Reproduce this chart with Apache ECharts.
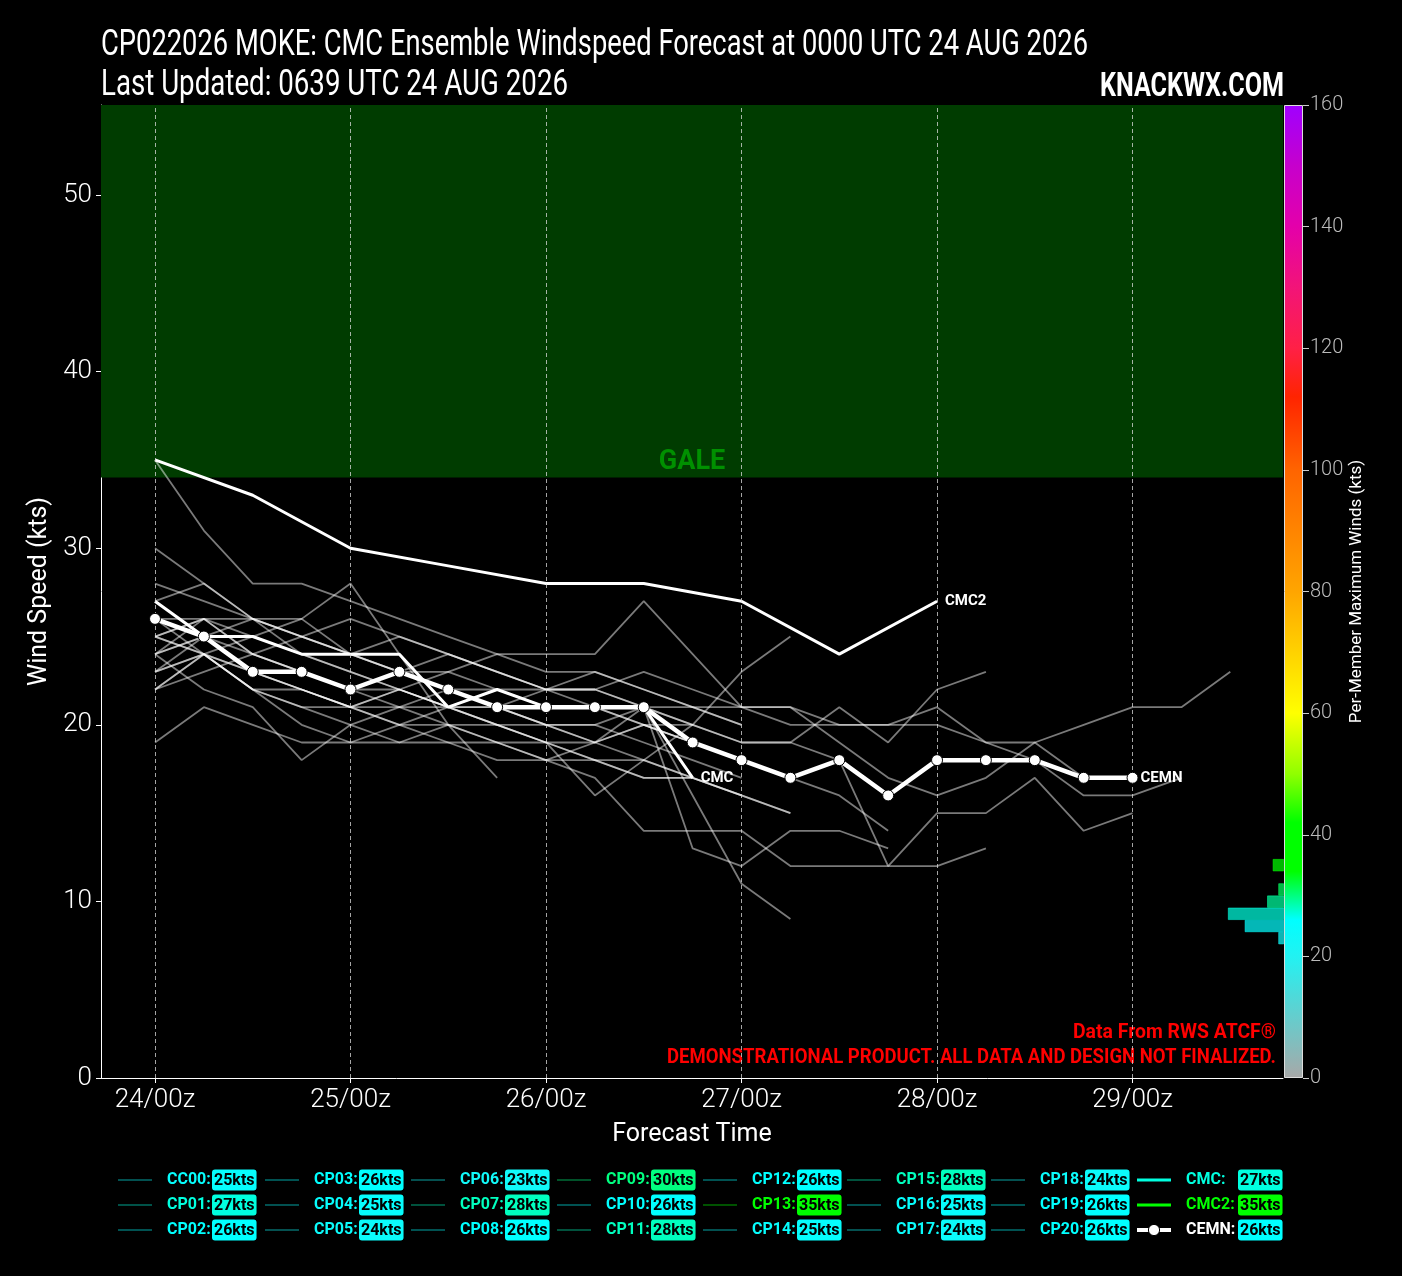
<!DOCTYPE html>
<html><head><meta charset="utf-8">
<script src="https://cdn.jsdelivr.net/npm/echarts@6/dist/echarts.min.js"></script>
<style>html,body{margin:0;padding:0;background:#000}#c{width:1402px;height:1276px}</style>
</head><body><div id="c"></div>
<script>
const FONT = "Roboto,'Noto Sans',sans-serif";

// ---------- data ----------
const stepHours = [0,6,12,18,24,30,36,42,48,54,60,66,72,78,84,90,96,102,108,114,120,126,132];
const tickHours = [0,24,48,72,96,120];
const tickLabels = ['24/00z','25/00z','26/00z','27/00z','28/00z','29/00z'];

const memberNames = ['CC00','CP01','CP02','CP03','CP04','CP05','CP06','CP07','CP08','CP09','CP10',
                     'CP11','CP12','CP13','CP14','CP15','CP16','CP17','CP18','CP19','CP20'];
const CC00 = [25,24,22,21,20,21,22,21,20,19,20,19,18,17,16,14];
const CP01 = [24,25,24,23,22,22,23,24,24,24,27,24,21,21,19,17,16,17,19,20,21,21,23];
const CP02 = [26,24,22,21,21,20,20,19,18,17,14,14,14,12,12,12,12,13];
const CP03 = [24,26,24,23,22,21,21,22,21,21,21,13,12,14,14,13];
const CP04 = [23,25,23,22,21,22,21,20,20,19,21,16,11,9];
const CP05 = [24,22,21,18,20,19,19,19,19,18,17,17,16,15];
const CP06 = [19,21,20,19,19,20,19,18,18,19,20,20,19,19,21,19,22,23];
const CP07 = [28,27,26,25,24,23,23,22,22,22,21,21,21,20,20,20,20,19,18,16,16,17];
const CP08 = [23,24,25,26,24,23,22,22,21,21,20,19,18];
const CP09 = [30,28,26,25,24,25,24,23,22,22,23,22,21,21,20,20,21,19,19,17];
const CP10 = [26,26,24,23,22,23,22,21,20,20,21,20,19,19,18,12,15,15,17,14,15];
const CP11 = [27,28,26,25,24,23,24,23,22,23,22,21,20];
const CP12 = [22,23,24,25,26,25,24,23,22,21,20,19,18,17];
const CP13 = [35,31,28,28,27,26,25,24,23,23,22,21,20];
const CP14 = [25,24,22,20,19,19,20,19,18,18,17,17,16,15];
const CP15 = [25,26,26,26,28,24,20,17];
const CP16 = [22,24,23,22,21,21,20,20,19,16,18,20,23,25];
const CP17 = [23,24,23,22,21,22,21,20,19,18,18,17,16];
const CP18 = [22,24,22,22,21,20,21,20,19,19,18,17];
const CP19 = [25,26,25,24,23,22,21,21,20,20,19,18,17];
const CP20 = [24,25,26,24,23,22,21,21,22,22,21,20];
const memberValues = [CC00,CP01,CP02,CP03,CP04,CP05,CP06,CP07,CP08,CP09,CP10,
                      CP11,CP12,CP13,CP14,CP15,CP16,CP17,CP18,CP19,CP20];
const memberMax = [25,27,26,26,25,24,23,28,26,30,26,28,26,35,25,28,25,24,24,26,26];

const cmcValues  = [27,25,25,24,24,24,21,22,21,21,21,17];
const cmc2Values = [35,null,33,null,30,null,29,null,28,null,28,null,27,null,24,null,27];
const cemnValues = [26,25,23,23,22,23,22,21,21,21,21,19,18,17,18,16,18,18,18,17,17];
const guideNames = ['CMC','CMC2','CEMN'];
const guideMax = [27,35,26];

const galeThreshold = 34;
const yMax = 55.1;
const xMin = -6.63, xMax = 138.47;
const cbarMax = 160, cbarTicks = 20, histBin = 2;

const titleLine1 = 'CP022026 MOKE: CMC Ensemble Windspeed Forecast at 0000 UTC 24 AUG 2026';
const titleLine2 = 'Last Updated: 0639 UTC 24 AUG 2026';
const brand = 'KNACKWX.COM';
const note1 = 'Data From RWS ATCF®';
const note2 = 'DEMONSTRATIONAL PRODUCT. ALL DATA AND DESIGN NOT FINALIZED.';

// colormap stops (kts -> colour)
const cmapStops = [[0,'#a8a8a8'],[20,'#22f2f2'],[26,'#00ffff'],[34,'#00ff00'],[42,'#00ff00'],
  [50,'#90ff00'],[60,'#ffff00'],[80,'#ffa500'],[100,'#ff6400'],[112,'#ff2400'],[120,'#ff2046'],
  [130,'#f21478'],[140,'#e400aa'],[150,'#c600cc'],[160,'#a000ff']];

// ---------- helpers ----------
function hex2rgb(h){return [parseInt(h.substr(1,2),16),parseInt(h.substr(3,2),16),parseInt(h.substr(5,2),16)];}
function cmap(v,a){
  if(a===undefined)a=1;
  const s=cmapStops;
  if(v<=s[0][0]) {const c=hex2rgb(s[0][1]);return `rgba(${c},${a})`;}
  for(let i=1;i<s.length;i++){
    if(v<=s[i][0]){
      const t=(v-s[i-1][0])/(s[i][0]-s[i-1][0]);
      const c0=hex2rgb(s[i-1][1]),c1=hex2rgb(s[i][1]);
      const c=c0.map((x,j)=>Math.round(x+(c1[j]-x)*t));
      return `rgba(${c[0]},${c[1]},${c[2]},${a})`;
    }
  }
  const c=hex2rgb(s[s.length-1][1]);return `rgba(${c},${a})`;
}
function pairs(vals){return vals.map((v,i)=>[stepHours[i],v]);}
const mctx = document.createElement('canvas').getContext('2d');
function fitText(text, font, targetW){mctx.font=font;return targetW/mctx.measureText(text).width;}

// histogram of per-member maxima
const allMax = memberMax.concat(guideMax);
const nBins = cbarMax/histBin;
const binCats = [], histCounts = [];
for(let i=0;i<nBins;i++){binCats.push(String(i*histBin));histCounts.push(0);}
allMax.forEach(v=>{histCounts[Math.floor(v/histBin)]++;});

// ---------- series ----------
const series = [];
series.push({
  type:'line', name:'_gale', data:[], xAxisIndex:0, yAxisIndex:0, silent:true, z:0,
  markArea:{silent:true, itemStyle:{color:'#003c00'},
    label:{show:true, position:'insideBottom', formatter:'GALE', color:'#009000', fontSize:27,
           fontWeight:'bold', fontFamily:FONT, distance:2},
    data:[[{yAxis:galeThreshold},{yAxis:yMax}]]},
  markLine:{silent:true, symbol:'none', label:{show:false},
    lineStyle:{color:'rgba(220,220,220,0.75)', type:[4,3], width:1},
    data:tickHours.map(h=>({xAxis:h}))}
});
memberValues.forEach((vals,i)=>{
  series.push({type:'line', name:memberNames[i], data:pairs(vals), symbol:'none', silent:true, z:2,
    lineStyle:{color:'rgba(255,255,255,0.48)', width:1.8}});
});
const endLbl = t=>({show:true, formatter:t, color:'#fff', fontWeight:'bold', fontSize:15, fontFamily:FONT, distance:8});
series.push({type:'line', name:'CMC', data:pairs(cmcValues), symbol:'none', z:4,
  lineStyle:{color:'#fff', width:3}, endLabel:endLbl('CMC')});
series.push({type:'line', name:'CMC2', data:pairs(cmc2Values), connectNulls:true, symbol:'none', z:4,
  lineStyle:{color:'#fff', width:3}, endLabel:endLbl('CMC2')});
series.push({type:'line', name:'CEMN', data:pairs(cemnValues), symbol:'circle', symbolSize:11, z:5,
  lineStyle:{color:'#fff', width:4.5},
  itemStyle:{color:'#fff', borderColor:'#000', borderWidth:1}, endLabel:endLbl('CEMN')});
// colorbar
series.push({type:'bar', name:'_cbar', xAxisIndex:1, yAxisIndex:1, data:[cbarMax], barWidth:'100%', silent:true,
  itemStyle:{color:new echarts.graphic.LinearGradient(0,1,0,0,
     cmapStops.map(s=>({offset:s[0]/cbarMax,color:s[1]}))), borderColor:'#dddddd', borderWidth:1}});
// histogram
series.push({type:'bar', name:'_hist', xAxisIndex:2, yAxisIndex:2, barWidth:'100%', silent:true,
  data:histCounts.map((c,i)=>c>0?{value:c,itemStyle:{color:cmap(i*histBin+histBin/2,0.72),
      borderColor:cmap(i*histBin+histBin/2,0.9),borderWidth:0.6}}:'-')});

// ---------- legends ----------
const legendItems = memberNames.map((n,i)=>({name:n,max:memberMax[i],kind:'m'}))
  .concat(guideNames.map((n,i)=>({name:n,max:guideMax[i],kind:'g'})));
const colLeft = [117,264,410,556,702,846,990,1135];
const legends = [];
for(let c=0;c<8;c++){
  const items = legendItems.slice(c*3,c*3+3);
  const rich = {};
  const data = items.map((it,j)=>{
    rich['n'+j] = {color: it.name==='CEMN'?'#ffffff':cmap(it.max), fontWeight:'bold', fontSize:16,
                   fontFamily:FONT, width:(c===7?52:45), padding:[0,0,0,10]};
    rich['b'+j] = {color:'#000', backgroundColor:cmap(it.max), borderRadius:3, padding:[3,2,2,2],
                   fontSize:16, fontFamily:FONT, fontWeight:'bold'};
    const d = {name:it.name};
    if(it.kind==='m'){
      d.lineStyle = {color:cmap(it.max,0.32), width:2}; d.itemStyle={opacity:0};
    } else if(it.name==='CEMN'){
      d.lineStyle = {color:'#fff', width:4}; d.itemStyle={color:'#fff', borderColor:'#000', borderWidth:1};
    } else {
      d.lineStyle = {color:cmap(it.max), width:3}; d.itemStyle={opacity:0};
    }
    return d;
  });
  legends.push({
    orient:'vertical', left:colLeft[c], top:1169, itemWidth:34, itemHeight:14, itemGap:3,
    selectedMode:false, padding:0, data:data,
    textStyle:{rich:rich, fontFamily:FONT, lineHeight:22},
    formatter:function(name){
      const j = items.findIndex(it=>it.name===name);
      return `{n${j}|${name}:}{b${j}|${items[j].max}kts}`;
    }
  });
}

// ---------- header / notes as text ----------
const fT = "36px Roboto", fB = "bold 33px Roboto", fN = "bold 21px Roboto";
const graphics = [
  {type:'text', x:101, y:28, scaleX:fitText(titleLine1,fT,987), style:{text:titleLine1, fill:'#fff', font:fT, textVerticalAlign:'top'}},
  {type:'text', x:101, y:68, scaleX:fitText(titleLine2,fT,467), style:{text:titleLine2, fill:'#fff', font:fT, textVerticalAlign:'top'}},
  {type:'text', x:1284, y:71, scaleX:fitText(brand,fB,184), style:{text:brand, fill:'#fff', font:fB, textAlign:'right', textVerticalAlign:'top'}},
  {type:'text', x:1276, y:1022, scaleX:fitText(note1,fN,203), style:{text:note1, fill:'#ff0000', font:fN, textAlign:'right', textVerticalAlign:'top'}},
  {type:'text', x:1276, y:1047, scaleX:fitText(note2,fN,609), style:{text:note2, fill:'#ff0000', font:fN, textAlign:'right', textVerticalAlign:'top'}}
];

const option = {
  backgroundColor:'#000',
  animation:false,
  graphic:graphics,
  legend:legends,
  grid:[
    {left:101, top:105, width:1182, height:973},
    {left:1284, top:105, width:19, height:973},
    {left:1060, top:105, width:224, height:973}
  ],
  xAxis:[
    {type:'value', gridIndex:0, min:xMin, max:xMax,
     axisLine:{onZero:false, lineStyle:{color:'#fff', width:1}},
     axisTick:{show:true, customValues:tickHours, length:5, lineStyle:{color:'#fff'}},
     axisLabel:{customValues:tickHours, color:'#fff', fontSize:26, fontWeight:300, fontFamily:FONT, margin:9,
                formatter:v=>tickLabels[tickHours.indexOf(v)]},
     splitLine:{show:false},
     name:'Forecast Time', nameLocation:'middle', nameGap:44,
     nameTextStyle:{color:'#fff', fontSize:25, fontFamily:FONT}},
    {type:'category', gridIndex:1, data:['c'], show:false},
    {type:'value', gridIndex:2, min:0, max:40, inverse:true, show:false}
  ],
  yAxis:[
    {type:'value', gridIndex:0, min:0, max:yMax, interval:10,
     axisLine:{show:true, onZero:false, lineStyle:{color:'#fff', width:1}},
     axisTick:{show:true, length:5, lineStyle:{color:'#fff'}},
     axisLabel:{color:'#fff', fontSize:26, fontWeight:300, fontFamily:FONT, margin:9, showMaxLabel:false},
     splitLine:{show:false},
     name:'Wind Speed (kts)', nameLocation:'middle', nameGap:46,
     nameTextStyle:{color:'#fff', fontSize:25, fontFamily:FONT}},
    {type:'value', gridIndex:1, min:0, max:cbarMax, interval:cbarTicks, position:'right',
     axisLine:{show:false},
     axisTick:{show:true, length:6, lineStyle:{color:'#ccc'}},
     axisLabel:{color:'#bbbbbb', fontSize:20, fontWeight:300, fontFamily:FONT, margin:7},
     splitLine:{show:false},
     name:'Per-Member Maximum Winds (kts)', nameLocation:'middle', nameGap:45, nameRotate:90,
     nameTextStyle:{color:'#fff', fontSize:17, fontFamily:FONT}},
    {type:'category', gridIndex:2, data:binCats, show:false}
  ],
  series:series
};
const chart = echarts.init(document.getElementById('c'), null, {renderer:'canvas'});
chart.setOption(option);
</script></body></html>
